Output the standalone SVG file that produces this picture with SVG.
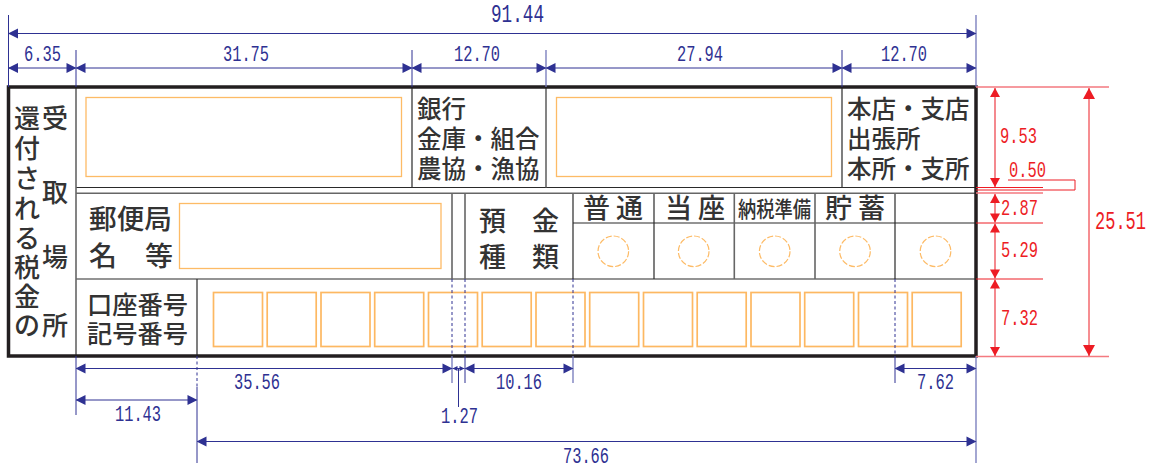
<svg xmlns="http://www.w3.org/2000/svg" width="1158" height="470" viewBox="0 0 1158 470">
<style>
.jp{font-family:"Noto Sans CJK JP","Noto Sans CJK SC",sans-serif;fill:#333;font-weight:500}
.f24{font-size:24.5px}.f25{font-size:25px}.f27{font-size:27px}.f26{font-size:26px}
.num{font-family:"Liberation Mono",monospace;font-size:22px}
.big{font-size:25px}
.blue{fill:#2e3192}.red{fill:#ed1c24}
.thin{fill:none;stroke:#2a2a2a;stroke-width:1.2}
.gray{fill:none;stroke:#666;stroke-width:1.6}
.org{fill:none;stroke:#fdbb66;stroke-width:1.3}
.sq{fill:none;stroke:#fdb862;stroke-width:1.7}
.circ{fill:none;stroke:#fdbb66;stroke-width:1.2;stroke-dasharray:6 2}
.b{fill:none;stroke:#2e3192;stroke-width:1}
.bl{fill:none;stroke:#7378ba;stroke-width:1.3}
.bd{fill:none;stroke:#2e3192;stroke-width:1;stroke-dasharray:3 2.5}
.ba{fill:none;stroke:#2e3192;stroke-width:1;marker-start:url(#bs);marker-end:url(#be)}
.r{fill:none;stroke:#ed1c24;stroke-width:1}
.rl{fill:none;stroke:#f47a80;stroke-width:1.3}
.ra{fill:none;stroke:#ee4a52;stroke-width:1.3;marker-start:url(#rs);marker-end:url(#re)}
</style>
<defs>
<marker id="bs" markerUnits="userSpaceOnUse" markerWidth="12" markerHeight="12" refX="1" refY="6" orient="auto"><path d="M0 6L10 1V11Z" fill="#2e3192"/></marker>
<marker id="be" markerUnits="userSpaceOnUse" markerWidth="12" markerHeight="12" refX="11" refY="6" orient="auto"><path d="M12 6L2 1V11Z" fill="#2e3192"/></marker>
<marker id="bss" markerUnits="userSpaceOnUse" markerWidth="6" markerHeight="8" refX="0" refY="4" orient="auto"><path d="M0 4L5 1.5V6.500Z" fill="#2e3192"/></marker>
<marker id="bse" markerUnits="userSpaceOnUse" markerWidth="6" markerHeight="8" refX="6" refY="4" orient="auto"><path d="M6 4L1 1.5V6.500Z" fill="#2e3192"/></marker>
<marker id="rs" markerUnits="userSpaceOnUse" markerWidth="12" markerHeight="12" refX="0" refY="6" orient="auto"><path d="M0 6L9 1V11Z" fill="#ed1c24"/></marker>
<marker id="re" markerUnits="userSpaceOnUse" markerWidth="12" markerHeight="12" refX="12" refY="6" orient="auto"><path d="M12 6L3 1V11Z" fill="#ed1c24"/></marker>
<marker id="rbs" markerUnits="userSpaceOnUse" markerWidth="14" markerHeight="14" refX="0" refY="7" orient="auto"><path d="M0 7L11 1V13Z" fill="#ed1c24"/></marker>
<marker id="rbe" markerUnits="userSpaceOnUse" markerWidth="14" markerHeight="14" refX="14" refY="7" orient="auto"><path d="M14 7L3 1V13Z" fill="#ed1c24"/></marker>
</defs>

<g id="form-frame">
<path class="thin" d="M76 187.500H976M76 279H976M573 223H976M197 279V356M412 87V187.500M842 87V187.500M573 193V279M654 193V279M895 193V279"/>
<path class="gray" d="M76 193.200H976M76 87V356M546 87V187.500M452 193V279M465 193V279M734.300 193V279M815 193V279"/>
<rect x="8.500" y="87" width="967.500" height="269" fill="none" stroke="#231f20" stroke-width="3.500"/>
</g>

<g id="node-recipient">
<text class="jp f26"><tspan x="14" y="128">還</tspan><tspan x="14" y="158">付</tspan><tspan x="14" y="188">さ</tspan><tspan x="14" y="218">れ</tspan><tspan x="14" y="248">る</tspan><tspan x="14" y="277">税</tspan><tspan x="14" y="306">金</tspan><tspan x="14" y="335">の</tspan></text>
<text class="jp f26"><tspan x="42" y="128">受</tspan><tspan x="42" y="202">取</tspan><tspan x="42" y="267">場</tspan><tspan x="42" y="335">所</tspan></text>
</g>
<g id="node-bank-box"><rect class="org" x="86" y="97.500" width="315.500" height="79"/></g>
<g id="node-bank-label">
<text class="jp f24" x="417" y="118">銀行</text>
<text class="jp f24" x="417" y="148">金庫・組合</text>
<text class="jp f24" x="417" y="178">農協・漁協</text>
</g>
<g id="node-branch-box"><rect class="org" x="556.500" y="97.500" width="275" height="79"/></g>
<g id="node-branch-label">
<text class="jp f24" x="847" y="118">本店・支店</text>
<text class="jp f24" x="847" y="148">出張所</text>
<text class="jp f24" x="847" y="178">本所・支所</text>
</g>
<g id="node-post">
<text class="jp f27" x="89" y="229" textLength="83" lengthAdjust="spacingAndGlyphs">郵便局</text>
<text class="jp f27" x="89" y="266" textLength="84" lengthAdjust="spacingAndGlyphs">名　等</text>
<rect class="org" x="179.500" y="203.500" width="261.500" height="65"/>
</g>
<g id="node-type">
<text class="jp f27" x="479" y="231" textLength="80" lengthAdjust="spacing">預　金</text>
<text class="jp f27" x="479" y="267" textLength="80" lengthAdjust="spacing">種　類</text>
</g>
<g id="node-futsu"><text class="jp f27" x="583" y="218" letter-spacing="6">普通</text><circle class="circ" cx="613.300" cy="251.300" r="15.300"/></g>
<g id="node-toza"><text class="jp f27" x="665" y="218" letter-spacing="6">当座</text><circle class="circ" cx="693.700" cy="251.300" r="15.300"/></g>
<g id="node-nozei"><text class="jp" font-size="22" x="738" y="217" textLength="73" lengthAdjust="spacingAndGlyphs">納税準備</text><circle class="circ" cx="774.700" cy="251.300" r="15.300"/></g>
<g id="node-chochiku"><text class="jp f27" x="825" y="218" letter-spacing="6">貯蓄</text><circle class="circ" cx="855" cy="251.300" r="15.300"/></g>
<g id="node-blank"><circle class="circ" cx="935.500" cy="251.300" r="15.300"/></g>
<g id="node-account">
<text class="jp f25" x="87" y="314" textLength="101" lengthAdjust="spacingAndGlyphs">口座番号</text>
<text class="jp f25" x="87" y="343" textLength="101" lengthAdjust="spacingAndGlyphs">記号番号</text>
<rect class="sq" x="213.500" y="292.500" width="49" height="54"/>
<rect class="sq" x="267.200" y="292.500" width="49" height="54"/>
<rect class="sq" x="321" y="292.500" width="49" height="54"/>
<rect class="sq" x="374.700" y="292.500" width="49" height="54"/>
<rect class="sq" x="428.500" y="292.500" width="49" height="54"/>
<rect class="sq" x="482.200" y="292.500" width="49" height="54"/>
<rect class="sq" x="536" y="292.500" width="49" height="54"/>
<rect class="sq" x="589.700" y="292.500" width="49" height="54"/>
<rect class="sq" x="643.500" y="292.500" width="49" height="54"/>
<rect class="sq" x="697.200" y="292.500" width="49" height="54"/>
<rect class="sq" x="751" y="292.500" width="49" height="54"/>
<rect class="sq" x="804.700" y="292.500" width="49" height="54"/>
<rect class="sq" x="858.500" y="292.500" width="49" height="54"/>
<rect class="sq" x="912.200" y="292.500" width="49" height="54"/>
</g>

<g id="connectors">
<path class="b" d="M8.500 15V87M76 50V87M412 50V87M842 50V87M76 356V415M197 387V463M465 356V383M895 356V383M458.500 369V407"/>
<path class="bl" d="M976 15V87M546 50V87M976 356V463M452 356V383M573 356V383"/>
<path class="bd" d="M452 279V356M465 279V356M573 279V356M895 279V356M197 356V387"/>
<path class="ba" d="M9 33.500H975.500"/>
<path class="ba" d="M9 68H75.500"/>
<path class="ba" d="M76.500 68H411.500"/>
<path class="ba" d="M412.500 68H545.500"/>
<path class="ba" d="M546.500 68H841.500"/>
<path class="ba" d="M842.500 68H975.500"/>
<path class="ba" d="M76.500 368.500H451.500"/>
<path class="b" d="M452.500 368.500H464.500" marker-start="url(#bss)" marker-end="url(#bse)"/>
<path class="ba" d="M465.500 368.500H572.500"/>
<path class="ba" d="M895.500 368.500H975.500"/>
<path class="ba" d="M76.500 400H196.500"/>
<path class="ba" d="M197.500 441.500H975.500"/>

<path class="rl" d="M976 87H1109M976 193H1043M976 356.500H1109"/>
<path class="r" d="M976 187.500H1043M976 223H1043M976 279H1043M1008 180H1075V190H976"/>
<path class="ra" d="M995 88V187"/>
<path class="ra" d="M995 194V222.500"/>
<path class="ra" d="M995 223.500V278.500"/>
<path class="ra" d="M995 279.500V356"/>
<path class="r" d="M1089 88V356" stroke-width="1.300" marker-start="url(#rbs)" marker-end="url(#rbe)"/>
</g>

<g id="dimension-labels">
<text class="num big blue" x="491" y="21.500" textLength="53" lengthAdjust="spacingAndGlyphs">91.44</text>
<text class="num blue" x="24" y="60.500" textLength="37" lengthAdjust="spacingAndGlyphs">6.35</text>
<text class="num blue" x="223" y="60.500" textLength="46" lengthAdjust="spacingAndGlyphs">31.75</text>
<text class="num blue" x="454" y="60.500" textLength="46" lengthAdjust="spacingAndGlyphs">12.70</text>
<text class="num blue" x="677" y="60.500" textLength="46" lengthAdjust="spacingAndGlyphs">27.94</text>
<text class="num blue" x="881" y="60.500" textLength="46" lengthAdjust="spacingAndGlyphs">12.70</text>
<text class="num blue" x="234" y="388.500" textLength="46" lengthAdjust="spacingAndGlyphs">35.56</text>
<text class="num blue" x="496" y="388.500" textLength="46" lengthAdjust="spacingAndGlyphs">10.16</text>
<text class="num blue" x="917" y="388.500" textLength="37" lengthAdjust="spacingAndGlyphs">7.62</text>
<text class="num blue" x="115" y="420.500" textLength="46" lengthAdjust="spacingAndGlyphs">11.43</text>
<text class="num blue" x="441" y="422.500" textLength="37" lengthAdjust="spacingAndGlyphs">1.27</text>
<text class="num blue" x="563" y="462.500" textLength="46" lengthAdjust="spacingAndGlyphs">73.66</text>
<text class="num red" x="1000" y="143" textLength="37" lengthAdjust="spacingAndGlyphs">9.53</text>
<text class="num red" x="1009" y="176.500" textLength="37" lengthAdjust="spacingAndGlyphs">0.50</text>
<text class="num red" x="1001" y="215" textLength="37" lengthAdjust="spacingAndGlyphs">2.87</text>
<text class="num red" x="1001" y="257" textLength="37" lengthAdjust="spacingAndGlyphs">5.29</text>
<text class="num red" x="1001" y="325" textLength="37" lengthAdjust="spacingAndGlyphs">7.32</text>
<text class="num big red" transform="translate(1095 229) scale(.68 1)" x="0" y="0">25.51</text>
</g>
</svg>
